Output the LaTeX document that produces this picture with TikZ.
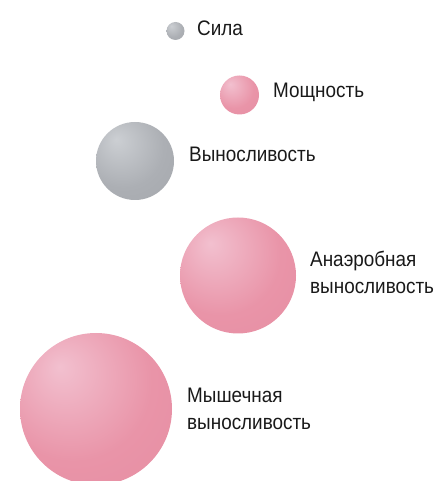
\documentclass[tikz,border=0pt]{standalone}
\usepackage{fontspec}
\setmainfont[FakeStretch=0.9]{Liberation Sans}

\definecolor{pinkhi}{RGB}{242,192,207}
\definecolor{pinkmid}{RGB}{233,148,168}
\definecolor{pinkdk}{RGB}{214,112,138}
\definecolor{greyhi}{RGB}{204,207,211}
\definecolor{greymid}{RGB}{172,175,180}
\definecolor{greydk}{RGB}{136,139,144}
\definecolor{labtext}{RGB}{25,25,25}

\pgfdeclareradialshading{pinkshade}{\pgfpoint{-12bp}{14bp}}{color(0bp)=(pinkhi); color(26bp)=(pinkmid); color(50bp)=(pinkmid!80!pinkdk); color(70bp)=(pinkdk)}
\pgfdeclareradialshading{greyshade}{\pgfpoint{-12bp}{14bp}}{color(0bp)=(greyhi); color(26bp)=(greymid); color(50bp)=(greymid!75!greydk); color(70bp)=(greydk)}

\begin{document}
\begin{tikzpicture}[x=1pt,y=1pt,
    pinkball/.style={circle, inner sep=0pt, minimum size=#1, shading=pinkshade},
    greyball/.style={circle, inner sep=0pt, minimum size=#1, shading=greyshade},
    lab/.style={anchor=base west, inner sep=0pt, align=left, text=labtext,
      font=\fontsize{21}{26.5}\selectfont}]
      \useasboundingbox (0,0) rectangle (436,481);

      % spheres
      \node[greyball=18pt](b1) at (175.5,450){};
      \node[pinkball=39pt](b2) at (239.5,386){};
      \node[greyball=78pt](b3) at (135,320){};
      \node[pinkball=116pt](b4) at (238,205.5){};
      \node[pinkball=152pt](b5) at (96,72){};

      % labels (base = last line)
      \node[lab](t1) at (197,445){Сила};
      \node[lab](t2) at (273,383){Мощность};
      \node[lab](t3) at (189,319){Выносливость};
      \node[lab](t4) at (310,187.5){Анаэробная\\выносливость};
      \node[lab](t5) at (187,51.5){Мышечная\\выносливость};

    \end{tikzpicture}
\end{document}
